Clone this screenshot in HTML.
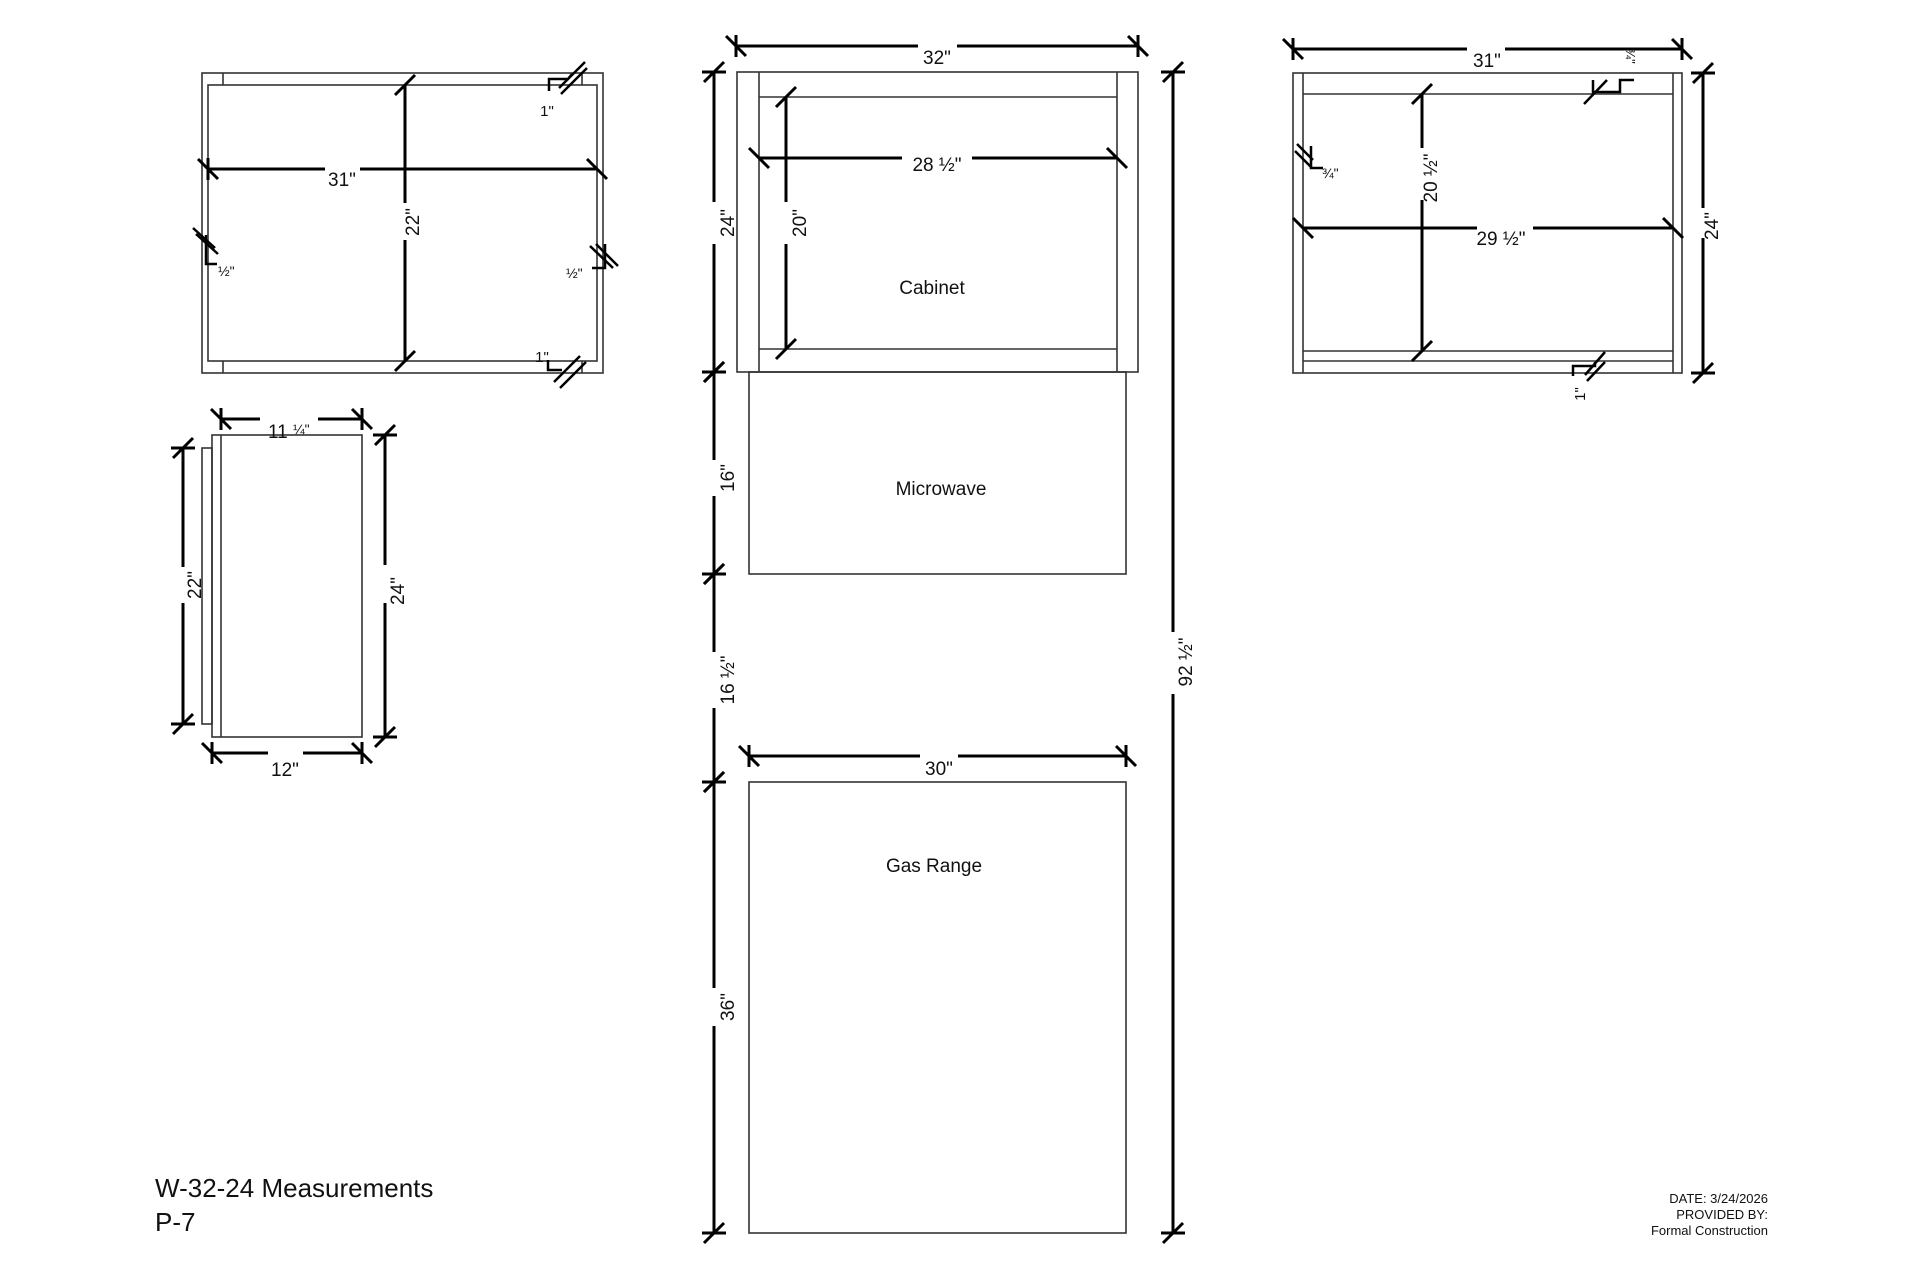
<!DOCTYPE html>
<html><head><meta charset="utf-8"><style>
html,body{margin:0;padding:0;background:#fff}
svg{display:block}
text{font-family:"Liberation Sans",sans-serif;fill:#111}
</style></head><body>
<svg id="s" xmlns="http://www.w3.org/2000/svg" width="1920" height="1280" viewBox="0 0 1920 1280">
<g fill="none" stroke="#333" stroke-width="1.6">
<rect x="202" y="73" width="401" height="300"/>
<rect x="208" y="85" width="389" height="276"/>
<line x1="223" y1="73" x2="223" y2="85"/><line x1="582" y1="73" x2="582" y2="85"/>
<line x1="223" y1="361" x2="223" y2="373"/><line x1="582" y1="361" x2="582" y2="373"/>
<rect x="737" y="72" width="401" height="300"/>
<line x1="759" y1="72" x2="759" y2="372"/><line x1="1117" y1="72" x2="1117" y2="372"/>
<line x1="759" y1="97" x2="1117" y2="97"/><line x1="759" y1="349" x2="1117" y2="349"/>
<rect x="749" y="372" width="377" height="202"/>
<rect x="749" y="782" width="377" height="451"/>
<rect x="1293" y="73" width="389" height="300"/>
<line x1="1303" y1="73" x2="1303" y2="373"/><line x1="1673" y1="73" x2="1673" y2="373"/>
<line x1="1303" y1="94" x2="1673" y2="94"/><line x1="1303" y1="351" x2="1673" y2="351"/>
<line x1="1303" y1="361" x2="1673" y2="361"/>
<rect x="212" y="435" width="150" height="302"/>
<line x1="221" y1="435" x2="221" y2="737"/>
<rect x="202" y="448" width="10" height="276"/>
</g>
<g id="dims" stroke="#000" stroke-width="3" fill="none"></g>
<g font-size="19">
<text x="342" y="186" text-anchor="middle">31"</text>
<text transform="translate(419,222) rotate(-90)" text-anchor="middle">22"</text>
<text x="547" y="116" text-anchor="middle" font-size="15">1"</text>
<text x="542" y="362" text-anchor="middle" font-size="15">1"</text>
<text x="218" y="276" font-size="14">½"</text>
<text x="566" y="278" font-size="14">½"</text>

<text x="937" y="64" text-anchor="middle">32"</text>
<text x="937" y="171" text-anchor="middle">28 ½"</text>
<text transform="translate(806,223) rotate(-90)" text-anchor="middle">20"</text>
<text transform="translate(734,223) rotate(-90)" text-anchor="middle">24"</text>
<text transform="translate(734,478) rotate(-90)" text-anchor="middle">16"</text>
<text transform="translate(734,680) rotate(-90)" text-anchor="middle">16 ½"</text>
<text transform="translate(734,1007) rotate(-90)" text-anchor="middle">36"</text>
<text transform="translate(1192,662) rotate(-90)" text-anchor="middle">92 ½"</text>
<text x="939" y="775" text-anchor="middle">30"</text>
<text x="932" y="294" text-anchor="middle">Cabinet</text>
<text x="941" y="495" text-anchor="middle">Microwave</text>
<text x="934" y="872" text-anchor="middle">Gas Range</text>

<text x="1487" y="67" text-anchor="middle">31"</text>
<text x="1501" y="245" text-anchor="middle">29 ½"</text>
<text transform="translate(1437,178) rotate(-90)" text-anchor="middle">20 ½"</text>
<text transform="translate(1718,226) rotate(-90)" text-anchor="middle">24"</text>
<text x="1322" y="178" font-size="14">¾"</text>
<text transform="translate(1585,394) rotate(-90)" text-anchor="middle" font-size="15">1"</text>
<text transform="translate(1626,56) rotate(90)" text-anchor="middle" font-size="13">¾"</text>

<text x="268" y="438">11</text>
<text x="293" y="434" font-size="14">¼"</text>
<text transform="translate(201,585) rotate(-90)" text-anchor="middle">22"</text>
<text transform="translate(404,591) rotate(-90)" text-anchor="middle">24"</text>
<text x="285" y="776" text-anchor="middle">12"</text>
</g>
<text x="155" y="1197" font-size="26">W-32-24 Measurements</text>
<text x="155" y="1231" font-size="26">P-7</text>
<g font-size="13" text-anchor="end">
<text x="1768" y="1203">DATE: 3/24/2026</text>
<text x="1768" y="1219">PROVIDED BY:</text>
<text x="1768" y="1235">Formal Construction</text>
</g>
<g stroke="#000" stroke-width="2.5" fill="none">
<path d="M549 91 V79 H568 L572 74"/><line x1="559" y1="88" x2="585" y2="62"/><line x1="561" y1="94" x2="587" y2="68"/>
<path d="M548 360 V370 H562"/><line x1="554" y1="382" x2="580" y2="356"/><line x1="560" y1="388" x2="586" y2="362"/>
<path d="M206 235 V264 H217"/><line x1="193" y1="228" x2="215" y2="248"/><line x1="196" y1="234" x2="218" y2="254"/>
<path d="M605 244 V268 H592"/><line x1="590" y1="246" x2="613" y2="268"/><line x1="596" y1="244" x2="618" y2="266"/>
<path d="M1593 92 H1620 V80 H1634"/><line x1="1593" y1="80" x2="1593" y2="95"/><line x1="1584" y1="104" x2="1607" y2="80"/>
<path d="M1311 146 V168 H1323"/><line x1="1297" y1="144" x2="1313" y2="160"/><line x1="1295" y1="151" x2="1311" y2="167"/>
<path d="M1573 376 V366 H1595 V362"/><line x1="1585" y1="375" x2="1605" y2="352"/><line x1="1587" y1="381" x2="1605" y2="362"/>
</g>
</svg>
<script>
var g=document.getElementById('dims');
function L(a,b,c,d){var l=document.createElementNS('http://www.w3.org/2000/svg','line');l.setAttribute('x1',a);l.setAttribute('y1',b);l.setAttribute('x2',c);l.setAttribute('y2',d);g.appendChild(l);}
function H(y,x1,x2,g1,g2,c){L(x1,y,g1,y);L(g2,y,x2,y);[x1,x2].forEach(function(x){L(x-10,y-10,x+10,y+10);if(c)L(x,y-11,x,y+11);});}
function V(x,y1,y2,g1,g2,c){L(x,y1,x,g1);L(x,g2,x,y2);[y1,y2].forEach(function(y){L(x-10,y+10,x+10,y-10);if(c)L(x-12,y,x+12,y);});}
H(169,208,597,325,360,false);L(208,158,208,180);
V(405,85,361,203,240,false);
H(46,736,1138,918,957,true);
H(158,759,1117,902,972,false);
V(786,97,349,202,244,false);
V(714,72,372,202,244,true);
V(714,372,574,460,496,true);
V(714,574,782,652,708,true);
V(714,782,1233,988,1026,true);
V(1173,72,1233,632,694,true);
H(756,749,1126,920,958,true);
H(49,1293,1682,1467,1505,true);
H(228,1303,1673,1477,1533,false);
V(1422,94,351,148,200,false);
V(1703,73,373,208,238,true);
H(419,221,362,260,318,true);
V(183,448,724,567,603,true);
V(385,435,737,565,603,true);
H(753,212,362,268,303,true);
</script>
</body></html>
